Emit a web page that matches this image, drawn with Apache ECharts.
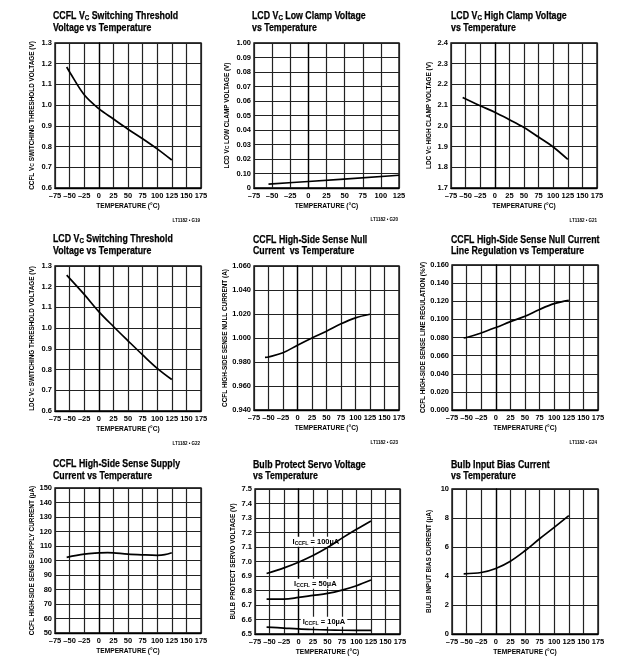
<!DOCTYPE html>
<html><head><meta charset="utf-8">
<script src="https://cdn.jsdelivr.net/npm/echarts@6/dist/echarts.min.js"></script>
<style>html,body{margin:0;padding:0;background:#fff}#c{width:625px;height:662px}</style>
</head><body><div id="c"></div><script>
const FF = "'Liberation Sans', Arial, sans-serif";

// ---------- data ----------
const ccflSwitchT = [-55, -50, -25, 0, 25, 50, 75, 100, 125];
const ccflSwitch = [1.184, 1.160, 1.050, 0.983, 0.933, 0.884, 0.838, 0.789, 0.735];

const lcdLowT = [-55, 0, 125];
const lcdLowClamp = [0.0027, 0.0045, 0.0088];
const lcdLowTickLabels = ['0', '0.10', '0.02', '0.03', '0.04', '0.05', '0.06', '0.07', '0.08', '0.09', '1.00'];

const lcdHighT = [-55, -25, 0, 25, 50, 75, 100, 125];
const lcdHighClamp = [2.137, 2.097, 2.066, 2.030, 1.992, 1.946, 1.898, 1.838];

const lcdSwitchT = [-55, -25, 0, 25, 50, 75, 100, 125];
const lcdSwitch = [1.256, 1.163, 1.080, 1.008, 0.939, 0.871, 0.806, 0.752];

const nullT = [-56, -50, -25, 0, 25, 50, 75, 100, 125];
const nullCurrent = [0.9838, 0.9842, 0.9877, 0.9940, 1.0000, 1.0057, 1.0118, 1.0168, 1.0198];

const lineRegT = [-55, -50, -25, 0, 25, 50, 75, 100, 125];
const lineReg = [0.0795, 0.0800, 0.0850, 0.0910, 0.0975, 0.1034, 0.1110, 0.1174, 0.1210];

const supplyT = [-55, -25, 0, 15, 25, 50, 75, 100, 113, 125];
const supplyCurrent = [102.2, 104.4, 105.2, 105.5, 105.3, 104.4, 103.9, 103.6, 104.0, 105.3];

const servoT = [-55, -25, 0, 25, 50, 75, 100, 125];
const servo100 = [6.917, 6.956, 6.995, 7.041, 7.096, 7.161, 7.222, 7.280];
const servo50 = [6.741, 6.741, 6.752, 6.766, 6.780, 6.803, 6.833, 6.872];
const servo10 = [6.548, 6.541, 6.535, 6.531, 6.528, 6.526, 6.525, 6.525];

const biasT = [-55, -25, 0, 25, 50, 75, 100, 125];
const biasCurrent = [4.15, 4.24, 4.52, 5.02, 5.74, 6.57, 7.35, 8.16];

const titles = [
  'CCFL V{s|C} Switching Threshold\nVoltage vs Temperature',
  'LCD V{s|C} Low Clamp Voltage\nvs Temperature',
  'LCD V{s|C} High Clamp Voltage\nvs Temperature',
  'LCD V{s|C} Switching Threshold\nVoltage vs Temperature',
  'CCFL High-Side Sense Null\nCurrent  vs Temperature',
  'CCFL High-Side Sense Null Current\nLine Regulation vs Temperature',
  'CCFL High-Side Sense Supply\nCurrent vs Temperature',
  'Bulb Protect Servo Voltage\nvs Temperature',
  'Bulb Input Bias Current\nvs Temperature'
];
const yNames = [
  'CCFL V{s|C} SWITCHING THRESHOLD VOLTAGE (V)',
  'LCD V{s|C} LOW CLAMP VOLTAGE (V)',
  'LDC V{s|C} HIGH CLAMP VOLTAGE (V)',
  'LDC V{s|C} SWITCHING THRESHOLD VOLTAGE (V)',
  'CCFL HIGH-SIDE SENSE NULL CURRENT (A)',
  'CCFL HIGH-SIDE SENSE LINE REGULATION (%V)',
  'CCFL HIGH-SIDE SENSE SUPPLY CURRENT (\u00b5A)',
  'BULB PROTECT SERVO VOLTAGE (V)',
  'BULB INPUT BIAS CURRENT (\u00b5A)'
];
const xName = 'TEMPERATURE (\u00b0C)';
const footers = ['LT1182 \u2022 G19', 'LT1182 \u2022 G20', 'LT1182 \u2022 G21', 'LT1182 \u2022 G22', 'LT1182 \u2022 G23', 'LT1182 \u2022 G24'];
const servoLabels = ['I{s|CCFL} = 100\u00b5A', 'I{s|CCFL} = 50\u00b5A', 'I{s|CCFL} = 10\u00b5A'];

// ---------- layout ----------
const grids = [
  {left: 55, top: 43, width: 146, height: 145},
  {left: 254, top: 43, width: 145, height: 145},
  {left: 451, top: 43, width: 146, height: 145},
  {left: 55, top: 266, width: 146, height: 145},
  {left: 254, top: 266, width: 145, height: 144},
  {left: 452, top: 265, width: 146, height: 145},
  {left: 55, top: 488, width: 146, height: 145},
  {left: 255, top: 489, width: 145, height: 145},
  {left: 452, top: 489, width: 146, height: 145}
];
const titlePos = [[53, 10.8], [252, 10.8], [451, 10.8], [53, 233.8], [253, 234], [451, 234], [53, 458.8], [253, 459], [451, 459]];
const yCfg = [
  {min: 0.6, max: 1.3, interval: 0.1, fmt: v => v.toFixed(1), gap: 19.6},
  {min: 0, max: 0.1, interval: 0.01, fmt: v => lcdLowTickLabels[Math.round(v * 100)], gap: 23.5},
  {min: 1.7, max: 2.4, interval: 0.1, fmt: v => v.toFixed(1), gap: 18.5},
  {min: 0.6, max: 1.3, interval: 0.1, fmt: v => v.toFixed(1), gap: 19.6},
  {min: 0.94, max: 1.06, interval: 0.02, fmt: v => v.toFixed(3), gap: 26},
  {min: 0, max: 0.16, interval: 0.02, fmt: v => v.toFixed(3), gap: 26},
  {min: 50, max: 150, interval: 10, fmt: v => String(Math.round(v)), gap: 19.6},
  {min: 6.5, max: 7.5, interval: 0.1, fmt: v => v.toFixed(1), gap: 18.5},
  {min: 0, max: 10, interval: 2, fmt: v => String(Math.round(v)), gap: 19.6}
];
const xMaxes = [175, 125, 175, 175, 175, 175, 175, 175, 175];

const seriesData = [
  [[ccflSwitchT, ccflSwitch]],
  [[lcdLowT, lcdLowClamp]],
  [[lcdHighT, lcdHighClamp]],
  [[lcdSwitchT, lcdSwitch]],
  [[nullT, nullCurrent]],
  [[lineRegT, lineReg]],
  [[supplyT, supplyCurrent]],
  [[servoT, servo100], [servoT, servo50], [servoT, servo10]],
  [[biasT, biasCurrent]]
];
const servoLabelCoords = [[30, 7.137], [29, 6.847], [44, 6.585]];

const subRich = {s: {fontFamily: FF, fontWeight: 'bold', fontSize: 5, verticalAlign: 'bottom', color: '#000'}};
const gridColor = '#222';
const tickFont = {fontFamily: FF, fontWeight: 'bold', fontSize: 7.5, color: '#000'};

const titleGraphics = titles.map((t, i) => ({
  type: 'text', silent: true, x: titlePos[i][0], y: titlePos[i][1], scaleX: 0.83,
  style: {text: t, fontFamily: FF, fontWeight: 'bold', fontSize: 10.6, lineHeight: 11.4, fill: '#000',
    stroke: '#000', lineWidth: 0.25,
    align: 'left', verticalAlign: 'top',
    rich: {s: {fontFamily: FF, fontWeight: 'bold', fontSize: 7.5, verticalAlign: 'bottom', lineHeight: 11.4, fill: '#000', color: '#000'}}}
}));
const footerGraphics = footers.map((f, i) => ({
  type: 'text', silent: true,
  x: [200, 398, 597, 200, 398, 597][i], y: [218, 217, 218, 441, 440, 440][i],
  style: {text: f, fontFamily: FF, fontWeight: 'bold', fontSize: 4.5, fill: '#000', align: 'right', textAlign: 'right'}
}));

const option = {
  animation: false,
  backgroundColor: '#fff',
  grid: grids.map(g => Object.assign({show: true, borderColor: '#000', borderWidth: 1.3, backgroundColor: 'transparent', containLabel: false, outerBoundsMode: 'none'}, g)),
  xAxis: grids.map((g, i) => ({
    gridIndex: i, type: 'value', min: -75, max: xMaxes[i], interval: 25,
    axisLine: {show: true, lineStyle: {color: '#000', width: 1.3}},
    axisTick: {show: false},
    splitLine: {show: true, lineStyle: {color: gridColor, width: 1.2}},
    axisLabel: Object.assign({margin: 3.5, showMinLabel: true, showMaxLabel: true, hideOverlap: false,
      formatter: v => v < 0 ? '\u2013' + (-v) : String(v)}, tickFont),
    name: xName, nameLocation: 'middle', nameGap: 14.5,
    nameTextStyle: {fontFamily: FF, fontWeight: 'bold', fontSize: 6.6, color: '#000'}
  })),
  yAxis: grids.map((g, i) => ({
    gridIndex: i, type: 'value', min: yCfg[i].min, max: yCfg[i].max, interval: yCfg[i].interval,
    axisLine: {show: true, lineStyle: {color: '#000', width: 1.3}},
    axisTick: {show: false},
    splitLine: {show: true, lineStyle: {color: gridColor, width: 1.2}},
    axisLabel: Object.assign({margin: 3, showMinLabel: true, showMaxLabel: true, hideOverlap: false, formatter: yCfg[i].fmt}, tickFont),
    name: yNames[i], nameLocation: 'middle', nameGap: yCfg[i].gap,
    nameTextStyle: {fontFamily: FF, fontWeight: 'bold', fontSize: 6.4, color: '#000', rich: subRich}
  })),
  series: [],
  graphic: titleGraphics.concat(footerGraphics)
};

seriesData.forEach((list, i) => {
  list.forEach((pair, k) => {
    const s = {
      type: 'line', xAxisIndex: i, yAxisIndex: i, silent: true,
      data: pair[0].map((t, j) => [t, pair[1][j]]),
      showSymbol: false, symbol: 'none', smooth: 0.35,
      lineStyle: {color: '#000', width: 1.7}, z: 5
    };
    if (i === 7) {
      s.markPoint = {
        symbol: 'rect', symbolSize: 1, itemStyle: {color: 'rgba(0,0,0,0)'}, silent: true,
        data: [{coord: servoLabelCoords[k]}],
        label: {show: true, position: 'inside', formatter: servoLabels[k], backgroundColor: '#fff', padding: [1, 2],
          fontFamily: FF, fontWeight: 'bold', fontSize: 7.5, color: '#000',
          rich: {s: {fontFamily: FF, fontWeight: 'bold', fontSize: 5.2, verticalAlign: 'bottom', color: '#000'}}}
      };
    }
    option.series.push(s);
  });
});

const chart = echarts.init(document.getElementById('c'), null, {renderer: 'canvas', width: 625, height: 662});
chart.setOption(option);
</script></body></html>
